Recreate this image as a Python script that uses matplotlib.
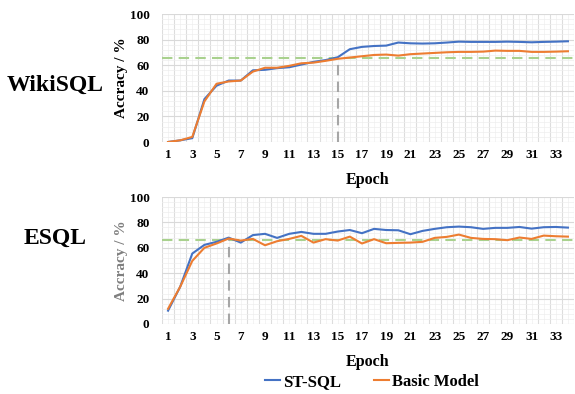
import matplotlib
matplotlib.use("Agg")
import matplotlib.pyplot as plt
from matplotlib.ticker import MultipleLocator, FixedLocator
import numpy as np

epochs = list(range(1, 35))
wiki_st = [0, 1.3, 3, 33.5, 44, 48, 48, 56, 56.4, 57.7, 58.4, 60.5, 62.6, 64, 66.2,
           72.5, 74.3, 75, 75.3, 77.7, 77.1, 76.9, 77.1, 77.7, 78.4, 78.2, 78.2, 78.2,
           78.4, 78.2, 77.9, 78.2, 78.4, 78.7]
wiki_basic = [0, 1.3, 4, 31.7, 45.5, 47.3, 48, 55, 58, 58, 59.5, 61.5, 62, 63.4, 65,
              66, 67, 68, 68.3, 67.5, 68.6, 69.1, 69.6, 70.1, 70.4, 70.4, 70.6, 71.4,
              71.2, 71.2, 70.4, 70.4, 70.6, 70.9]
esql_st = [10.5, 29.3, 55.5, 62.3, 64.7, 68, 64.1, 70, 71, 67.8, 71, 72.5, 71, 71,
           72.8, 74, 71.5, 74.9, 74, 73.8, 70.7, 73.3, 74.9, 76.2, 76.7, 76.2, 74.9,
           75.7, 75.7, 76.4, 75.1, 76.2, 76.4, 75.9]
esql_basic = [12, 29.3, 49.7, 60, 63.4, 67.3, 65.7, 67, 62, 65.2, 67, 69.4, 64.1, 66.8,
              65.7, 68.8, 63.4, 66.8, 63.6, 63.9, 64.1, 64.7, 67.8, 68.6, 70.4, 67.8,
              67, 66.8, 66, 68.1, 67, 69.6, 69.1, 68.8]
wiki_thresh = 66
esql_thresh = 66
wiki_mark = 15
esql_mark = 6
wiki_mark_val = 66.2
esql_mark_val = 68
datasets = ["WikiSQL", "ESQL"]
series_names = ["ST-SQL", "Basic Model"]

plt.rcParams['font.family'] = ['Liberation Serif', 'DejaVu Serif']
BLUE = '#4472C4'
ORANGE = '#ED7D31'
GREEN = '#A9D18E'
GRAY = '#A6A6A6'

fig = plt.figure(figsize=(5.75, 3.94), dpi=100)
W, H = 575, 394
axes_px = [(162, 14, 574, 142), (162, 197, 574, 324)]
data = [(wiki_st, wiki_basic, wiki_thresh, wiki_mark, wiki_mark_val),
        (esql_st, esql_basic, esql_thresh, esql_mark, esql_mark_val)]
label_y = [85, 238]
ylabel_colors = ['black', '#7F7F7F']

for k, (l, t, r, b) in enumerate(axes_px):
    ax = fig.add_axes([l / W, 1 - b / H, (r - l) / W, (b - t) / H])
    st, basic, thr, mk, mv = data[k]
    ax.set_xlim(0.5, 34.5)
    ax.set_ylim(0, 100)
    ax.xaxis.set_major_locator(FixedLocator(np.arange(1, 35, 2)))
    ax.set_xticklabels([str(v) for v in range(1, 35, 2)])
    ax.yaxis.set_major_locator(MultipleLocator(20))
    ax.yaxis.set_minor_locator(MultipleLocator(4))
    ax.grid(False)
    for xv in np.arange(0.5, 35, 1):
        ax.axvline(xv, color='#DDDDDD', lw=0.8, zorder=0)
    for xv in np.arange(1.0, 35, 1):
        ax.axvline(xv, color='#F0F0F0', lw=0.5, zorder=0)
    ax.grid(which='major', axis='y', color='#D9D9D9', lw=0.8, zorder=0)
    ax.grid(which='minor', axis='y', color='#EEEEEE', lw=0.5, zorder=0)
    ax.set_axisbelow(True)
    for s in ax.spines.values():
        s.set_visible(False)
    ax.tick_params(which='both', length=0)
    ax.tick_params(axis='x', labelsize=9.5, pad=5)
    ax.tick_params(axis='y', labelsize=9.5, pad=9)
    for lab in ax.get_xticklabels() + ax.get_yticklabels():
        lab.set_fontweight('bold')
    ax.plot(epochs, st, color=BLUE, lw=1.5, zorder=3, label=series_names[0])
    ax.plot(epochs, basic, color=ORANGE, lw=1.5, zorder=3, label=series_names[1])
    ax.axhline(thr, color=GREEN, lw=1.5, ls=(0, (5, 3)), zorder=2)
    ax.plot([mk, mk], [0, mv], color=GRAY, lw=1.5, ls=(0, (5, 3)), zorder=2)
    ax.set_xlabel('Epoch', fontsize=11.5, fontweight='bold', labelpad=8)
    ax.set_ylabel('Accracy / %', fontsize=11, fontweight='bold', labelpad=1,
                  color=ylabel_colors[k])
    fig.text(55 / W, 1 - label_y[k] / H, datasets[k], fontsize=17, fontweight='bold',
             ha='center', va='center')
    if k == 1:
        h, lb = ax.get_legend_handles_labels()
        fig.legend(h, lb, loc='center', bbox_to_anchor=(372 / W, 1 - 382 / H), ncol=2,
                   frameon=False, prop={'weight': 'bold', 'size': 12},
                   handlelength=0.9, handletextpad=0.15, columnspacing=2.0)

fig.savefig('out.png', dpi=100)
